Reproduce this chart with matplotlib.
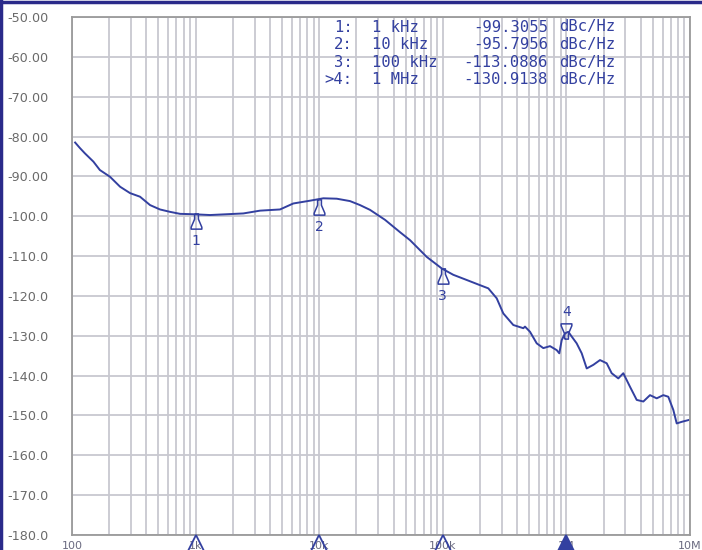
import matplotlib.pyplot as plt
from matplotlib.path import Path
from matplotlib.transforms import offset_copy
from matplotlib.lines import Line2D
import numpy as np

# phase noise trace, offset frequency (Hz) vs level (dBc/Hz)
freq = [106, 116, 127, 149, 168, 203, 245, 295, 355, 428, 515, 621, 748, 958,
        1308, 1785, 2432, 3319, 4818, 6172, 8425, 10800, 13860, 17750, 21380,
        25760, 34070, 45060, 54290, 74070, 98000, 121600, 156100, 200000,
        233400, 273000, 308700, 371900, 448100, 462400, 507600, 575200,
        650500, 736900, 834600, 876200, 916200, 974300, 1036000, 1104000,
        1211000, 1330000, 1460000, 1651000, 1870000, 2118000, 2325000,
        2630000, 2886000, 3270000, 3706000, 4192000, 4747000, 5378000,
        6081000, 6673000, 7326000, 7807000, 8568000, 9870000]
level = [-81.5, -82.9, -84.2, -86.3, -88.4, -90.1, -92.6, -94.2, -95.1, -97.2,
         -98.3, -98.9, -99.4, -99.5, -99.7, -99.5, -99.3, -98.6, -98.3, -96.8,
         -96.1, -95.5, -95.6, -96.2, -97.2, -98.4, -100.9, -104.0, -106.0,
         -110.2, -113.1, -114.7, -116.0, -117.3, -118.1, -120.6, -124.4,
         -127.3, -128.1, -127.7, -129.0, -131.9, -133.1, -132.6, -133.6,
         -134.4, -131.1, -129.4, -129.0, -130.2, -131.9, -134.4, -138.2,
         -137.3, -136.1, -136.9, -139.4, -140.7, -139.4, -142.8, -146.1,
         -146.5, -144.9, -145.7, -144.9, -145.3, -148.6, -152.0, -151.6,
         -151.1]

marker_freq = [1e3, 1e4, 1e5, 1e6]
marker_level = [-99.3055, -95.7956, -113.0886, -130.9138]
marker_ids = ['1', '2', '3', '4']
active_marker = 3

readout_ids = ['1:', '2:', '3:', '>4:']
readout_freq = ['1 kHz', '10 kHz', '100 kHz', '1 MHz']
readout_vals = ['-99.3055', '-95.7956', '-113.0886', '-130.9138']

ytick_vals = [-50, -60, -70, -80, -90, -100, -110, -120, -130, -140, -150, -160, -170, -180]
ytick_labels = ['-50.00', '-60.00', '-70.00', '-80.00', '-90.00', '-100.0', '-110.0',
                '-120.0', '-130.0', '-140.0', '-150.0', '-160.0', '-170.0', '-180.0']
xtick_vals = [1e2, 1e3, 1e4, 1e5, 1e6, 1e7]
xtick_labels = ['100', '1k', '10k', '100k', '1M', '10M']

blue = '#3340a0'
W, H = 702, 550

fig = plt.figure(figsize=(W / 100, H / 100), dpi=100)
ax = fig.add_axes([72 / W, 15 / H, 618 / W, 518 / H])
ax.set_xscale('log')
ax.set_xlim(100, 1e7)
ax.set_ylim(-180, -50)

ax.set_yticks(ytick_vals)
ax.set_yticklabels(ytick_labels)
ax.set_xticks(xtick_vals)
ax.set_xticklabels(xtick_labels)
ax.set_xticks([m * 10 ** d for d in range(2, 7) for m in range(2, 10)], minor=True)
ax.tick_params(which='both', length=0)
ax.tick_params(axis='y', pad=17, labelsize=9.2, labelcolor='#6a6a6a')
ax.tick_params(axis='x', pad=4, labelsize=8, labelcolor='#6a6a80')
for lab in ax.get_xticklabels():
    lab.set_clip_on(False)
ax.grid(which='both', color='#c8c8d0', lw=1.3)
ax.set_axisbelow(True)
for s in ax.spines.values():
    s.set_color('#9a9a9a')
    s.set_linewidth(1.3)

ax.plot(freq, level, color=blue, lw=1.4)

# marker symbols (tower shape)
up = Path([(-0.25, 1), (0.25, 1), (0.25, 0.3), (0.7, -0.75), (0.7, -1),
           (-0.7, -1), (-0.7, -0.75), (-0.25, 0.3), (-0.25, 1)])
down = Path([(x, -y) for x, y in up.vertices])
below = offset_copy(ax.transData, fig=fig, y=-8, units='dots')
above = offset_copy(ax.transData, fig=fig, y=8, units='dots')
lab_below = offset_copy(ax.transData, fig=fig, y=-28, units='dots')
lab_above = offset_copy(ax.transData, fig=fig, y=27, units='dots')
for i, (f, v, n) in enumerate(zip(marker_freq, marker_level, marker_ids)):
    if i == active_marker:
        ax.plot([f], [v], marker=down, ms=11, mfc='none', mec=blue, mew=1.1,
                transform=above)
        ax.text(f, v, n, transform=lab_above, ha='center', va='center',
                color=blue, fontsize=10)
    else:
        ax.plot([f], [v], marker=up, ms=11, mfc='none', mec=blue, mew=1.1,
                transform=below)
        ax.text(f, v, n, transform=lab_below, ha='center', va='center',
                color=blue, fontsize=10)

# marker flags on the frequency axis
flag = offset_copy(ax.transData, fig=fig, y=-8, units='dots')
for i, f in enumerate(marker_freq):
    ax.plot([f], [-180], marker='^', ms=11, mew=1.3, mec=blue,
            mfc=blue if i == active_marker else 'none',
            transform=flag, clip_on=False, zorder=5)

# marker readout
mono = 'DejaVu Sans Mono'
for k in range(len(readout_ids)):
    y = 1 - (27 + 17.5 * k) / H
    fig.text(353 / W, y, readout_ids[k], ha='right', va='center', family=mono,
             fontsize=11.2, color=blue)
    fig.text(372 / W, y, readout_freq[k], ha='left', va='center', family=mono,
             fontsize=11.2, color=blue)
    fig.text(548 / W, y, readout_vals[k], ha='right', va='center', family=mono,
             fontsize=11.2, color=blue)
    fig.text(559 / W, y, 'dBc/Hz', ha='left', va='center', family=mono,
             fontsize=11.2, color=blue)

# window border
fig.add_artist(Line2D([0.002, 0.002], [0, 1], color='#2a2a8a', lw=2.5))
fig.add_artist(Line2D([0, 1], [0.997, 0.997], color='#2a2a8a', lw=2.5))

fig.savefig('out.png', dpi=100)
